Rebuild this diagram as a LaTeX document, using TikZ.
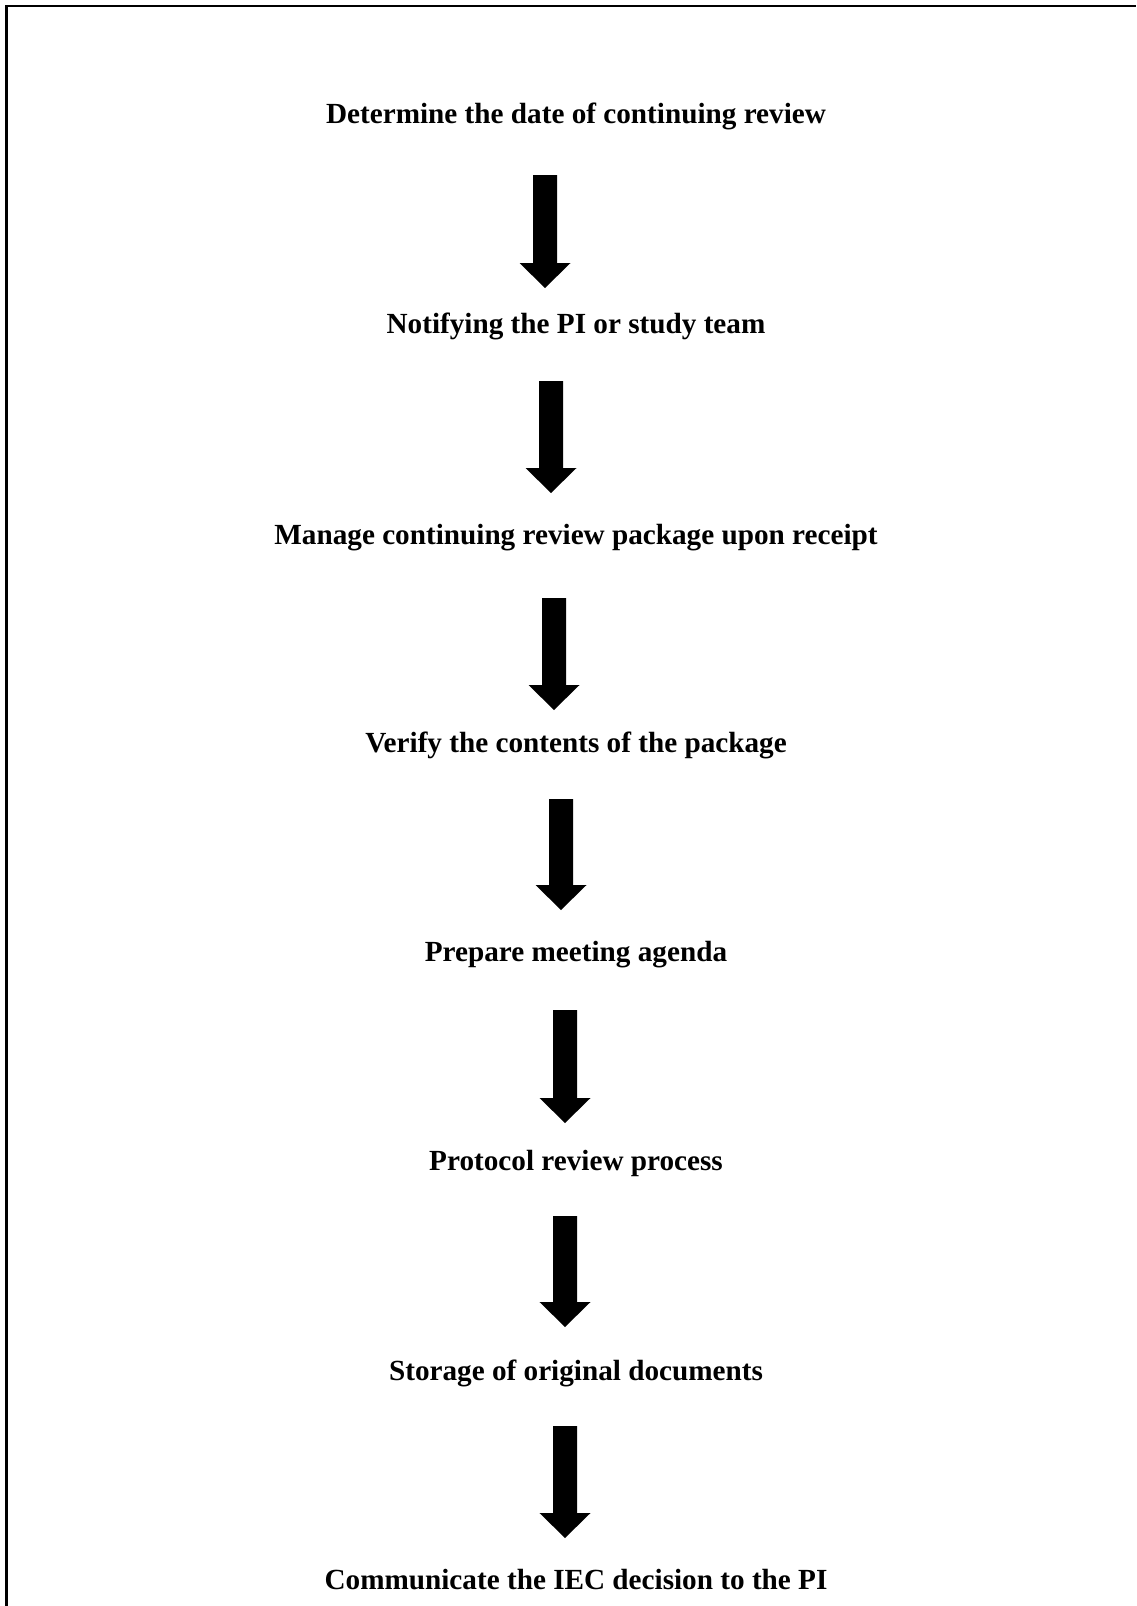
\documentclass[tikz,border=0pt]{standalone}
\usepackage{fontspec}
\setmainfont{Liberation Serif}
\tikzset{
  x=1pt, y=-1pt,
  lbl/.style={font=\fontsize{29.2}{35}\selectfont\bfseries, inner sep=0pt, anchor=base},
  blockarrow/.style={fill=black},
  frameline/.style={line width=2.5pt, draw=black}
}
\newcommand{\barrow}[3]{%
  \fill[blockarrow] (#1-12,#2) -- (#1+12,#2) -- (#1+12,#3-25) -- (#1+25.5,#3-25)
    -- (#1,#3) -- (#1-25.5,#3-25) -- (#1-12,#3-25) -- cycle;}
\begin{document}
\begin{tikzpicture}
\useasboundingbox (0,0) rectangle (1136,1606);
\draw[frameline] (6.7,1606) -- (6.7,6) -- (1136,6);
\node[lbl] (t1) at (576,123) {Determine the date of continuing review};
\node[lbl] (t2) at (576,333) {Notifying the PI or study team};
\node[lbl] (t3) at (576,544) {Manage continuing review package upon receipt};
\node[lbl] (t4) at (576,752) {Verify the contents of the package};
\node[lbl] (t5) at (576,961) {Prepare meeting agenda};
\node[lbl] (t6) at (576,1170) {Protocol review process};
\node[lbl] (t7) at (576,1380) {Storage of original documents};
\node[lbl] (t8) at (576,1589) {Communicate the IEC decision to the PI};
\barrow{545}{175}{288}
\barrow{551}{381}{493}
\barrow{554}{598}{710}
\barrow{561}{799}{910}
\barrow{565}{1010}{1123}
\barrow{565}{1216}{1327}
\barrow{565}{1426}{1538}
\end{tikzpicture}
\end{document}
